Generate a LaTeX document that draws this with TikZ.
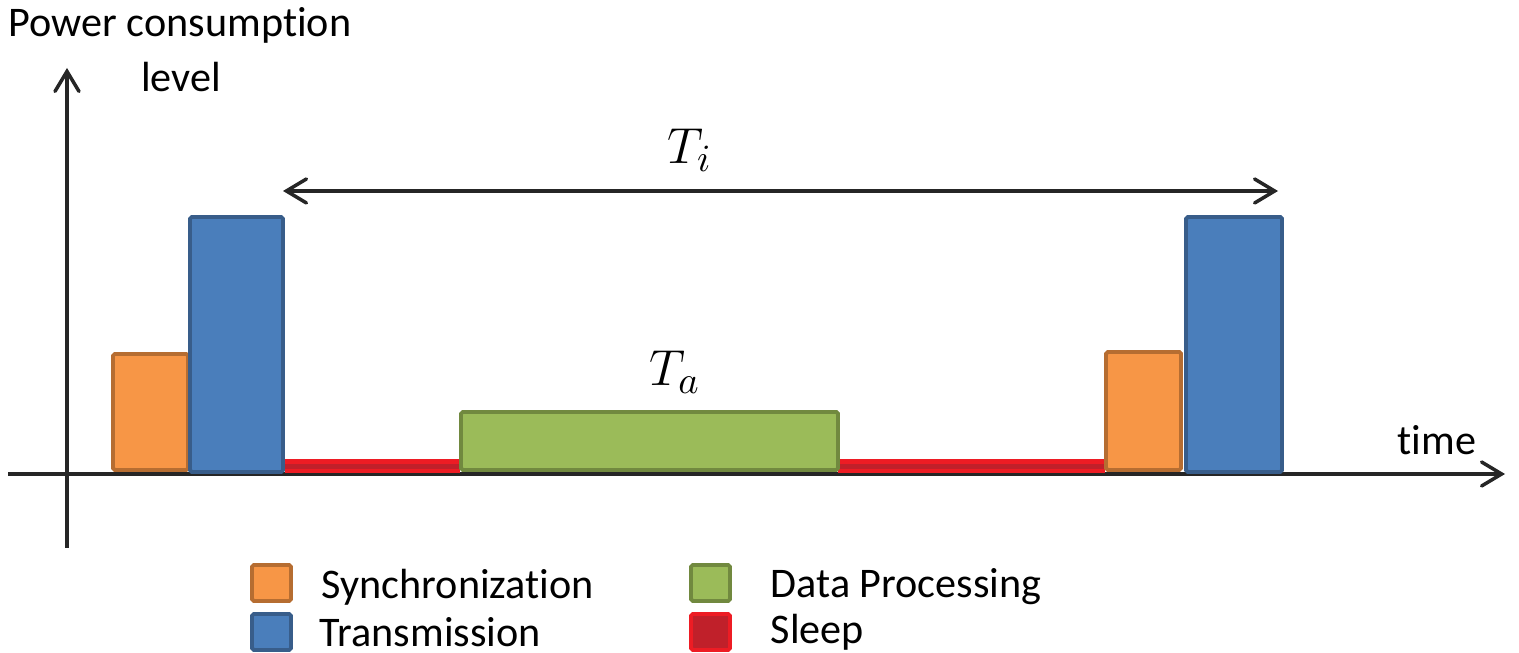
\documentclass[tikz,border=0pt]{standalone}
\usepackage{fontspec}
\setmainfont[Ligatures={NoCommon,NoRare}, RawFeature={-liga;-dlig}]{Carlito}
\usepackage{tikz}
\usetikzlibrary{arrows.meta}
\usetikzlibrary{positioning}
\definecolor{SyncFill}{HTML}{F79646}
\definecolor{SyncLine}{HTML}{B66D31}
\definecolor{TxFill}{HTML}{4A7EBB}
\definecolor{TxLine}{HTML}{385D8A}
\definecolor{ProcFill}{HTML}{9BBB59}
\definecolor{ProcLine}{HTML}{71893F}
\definecolor{SleepFill}{HTML}{ED1C24}
\definecolor{SleepDark}{HTML}{C0202A}

\begin{document}
\begin{tikzpicture}[
    txt/.style={font=\fontsize{12}{14}\selectfont, inner sep=0pt},
    mth/.style={font=\fontsize{15}{18}\selectfont, inner sep=0pt},
    barb/.style={-{Straight Barb[length=2mm, width=2.4mm, line cap=round]}},
    bar/.style={line width=1.1pt, rounded corners=0.5pt},
  ]
    \useasboundingbox (0,0) rectangle (15.19,6.53);
    % Axes
    \coordinate (ybot) at (0.67,1.05);
    \coordinate (ytop) at (0.67,5.85);
    \coordinate (xleft) at (0.08,1.79);
    \coordinate (xright) at (15.05,1.79);
    \draw[line width=1pt, black!85, barb] (ybot) -- (ytop);
    \draw[line width=1pt, black!85, barb] (xleft) -- (xright);
    \node[txt] (power) at (1.80,6.28) {Power consumption};
    \node[txt] (level) at (1.81,5.76) {level};
    \node[txt] (time) at (14.37,2.13) {time};
    % Sleep
    \fill[SleepFill] (2.85,1.80) rectangle (4.60,1.94);
    \fill[SleepDark] (2.85,1.84) rectangle (4.60,1.89);
    \fill[SleepFill] (8.38,1.80) rectangle (11.05,1.94);
    \fill[SleepDark] (8.38,1.84) rectangle (11.05,1.89);
    % Bars
    \draw[bar, SyncLine, fill=SyncFill] (1.13,1.83) rectangle (1.88,2.99);
    \draw[bar, TxLine, fill=TxFill] (1.90,1.81) rectangle (2.83,4.36);
    \draw[bar, ProcLine, fill=ProcFill] (4.61,1.83) rectangle (8.38,2.41);
    \draw[bar, SyncLine, fill=SyncFill] (11.06,1.83) rectangle (11.81,3.01);
    \draw[bar, TxLine, fill=TxFill] (11.86,1.81) rectangle (12.82,4.36);
    % Periods
    \coordinate (tistart) at (2.83,4.62);
    \coordinate (tiend) at (12.78,4.62);
    \draw[line width=1pt, black!85, {Straight Barb[length=2mm, width=2.4mm, line cap=round]}-{Straight Barb[length=2mm, width=2.4mm, line cap=round]}] (tistart) -- (tiend);
    \node[mth] (ti) at (6.90,5.03) {$T_i$};
    \node[mth] (ta) at (6.75,2.81) {$T_a$};
    % Legend
    \draw[bar, SyncLine, fill=SyncFill] (2.52,0.52) rectangle (2.91,0.88);
    \node[txt, anchor=west] (sync) at (3.21,0.66) {Synchronization};
    \draw[bar, TxLine, fill=TxFill] (2.52,0.03) rectangle (2.91,0.39);
    \node[txt, anchor=west] (tx) at (3.19,0.21) {Transmission};
    \draw[bar, ProcLine, fill=ProcFill] (6.91,0.52) rectangle (7.30,0.88);
    \node[txt, anchor=west] (proc) at (7.70,0.66) {Data Processing};
    \draw[bar, SleepFill, fill=SleepDark] (6.91,0.03) rectangle (7.30,0.39);
    \node[txt, anchor=west] (sleep) at (7.70,0.21) {Sleep};
  \end{tikzpicture}
\end{document}
